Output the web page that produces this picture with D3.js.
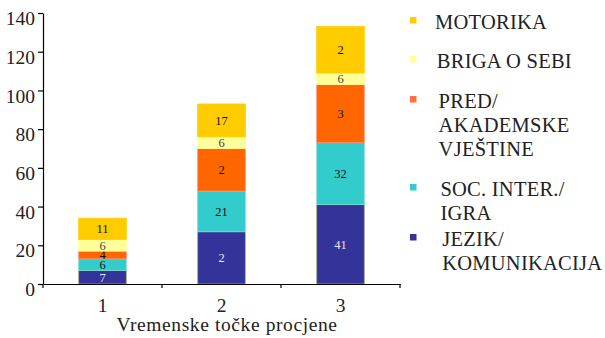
<!DOCTYPE html>
<html>
<head>
<meta charset="utf-8">
<script src="https://cdn.jsdelivr.net/npm/d3@7"></script>
<style>
  html, body { margin: 0; padding: 0; background: #fff; }
  svg text { font-family: "Liberation Serif", "DejaVu Serif", serif; }
</style>
</head>
<body>
<svg id="chart" width="605" height="338"></svg>
<script>
// Assessment time points
const categories = ["1", "2", "3"];

// Domains, stacked bottom to top
const seriesNames = ["JEZIK/ KOMUNIKACIJA", "SOC. INTER./ IGRA", "PRED/ AKADEMSKE VJEŠTINE", "BRIGA O SEBI", "MOTORIKA"];
const jezik    = [7, 27, 41];
const socInter = [6, 21, 32];
const pred     = [4, 22, 30];
const briga    = [6, 6, 6];
const motorika = [11, 17, 24];

// Text printed inside each segment
const jezikLabels    = ["7", "2", "41"];
const socLabels      = ["6", "21", "32"];
const predLabels     = ["4", "2", "3"];
const brigaLabels    = ["6", "6", "6"];
const motorikaLabels = ["11", "17", "2"];

const yTicks = [0, 20, 40, 60, 80, 100, 120, 140];
const xTitle = "Vremenske točke procjene";

// Legend entries, top to bottom, each split into lines
const legendLines = [
  ["MOTORIKA"],
  ["BRIGA O SEBI"],
  ["PRED/", "AKADEMSKE", "VJEŠTINE"],
  ["SOC. INTER./", "IGRA"],
  ["JEZIK/", "KOMUNIKACIJA"]
];

const seriesValues = [jezik, socInter, pred, briga, motorika];
const seriesLabels = [jezikLabels, socLabels, predLabels, brigaLabels, motorikaLabels];
const fills   = ["#333399", "#33CCCC", "#FF6600", "#FFFF99", "#FFCC00"];
const strokes = ["#9db07a", "#7fd8d0", "#ff8c7a", "#ffff99", "#ffcc00"];
const textColors = ["#e4e4f4", "#111", "#111", "#444", "#111"];
const legendColors = ["#FFCC00", "#FFFF99", "#FF6F3A", "#33CCCC", "#333399"];

const FONT = "'Liberation Serif', 'DejaVu Serif', serif";
const svg = d3.select("#chart");

const x = d3.scaleBand().domain(categories).range([43, 400]).padding(0);
const y = d3.scaleLinear().domain([0, 140]).range([284, 13]);
const barW = x.bandwidth() * 0.4;

// Stack rows per category
const rows = categories.map((c, i) => {
  const r = { cat: c, idx: i };
  seriesNames.forEach((s, k) => { r[s] = seriesValues[k][i]; });
  return r;
});
const stacked = d3.stack().keys(seriesNames)(rows);

const layers = svg.append("g").selectAll("g")
  .data(stacked)
  .join("g");

layers.each(function (layer, k) {
  d3.select(this).selectAll("rect")
    .data(layer)
    .join("rect")
    .attr("x", d => x(d.data.cat) + (x.bandwidth() - barW) / 2)
    .attr("y", d => y(d[1]))
    .attr("width", barW)
    .attr("height", d => y(d[0]) - y(d[1]))
    .attr("fill", fills[k])
    .attr("stroke", strokes[k])
    .attr("stroke-width", 0.8);
});

// Segment labels drawn above all rectangles
layers.each(function (layer, k) {
  d3.select(this).selectAll("text")
    .data(layer)
    .join("text")
    .attr("x", d => x(d.data.cat) + x.bandwidth() / 2)
    .attr("y", d => (y(d[0]) + y(d[1])) / 2)
    .attr("dy", "0.36em")
    .attr("text-anchor", "middle")
    .attr("font-family", FONT)
    .attr("font-size", 12.5)
    .attr("fill", textColors[k])
    .text(d => seriesLabels[k][d.data.idx]);
});

// Y axis
const yAxis = svg.append("g")
  .attr("transform", "translate(43,0)")
  .call(d3.axisLeft(y).tickValues(yTicks).tickSize(5).tickPadding(3).tickSizeOuter(0));
yAxis.attr("font-family", FONT);
yAxis.select(".domain").attr("stroke", "#000").attr("stroke-width", 1.2);
yAxis.selectAll(".tick line").attr("stroke", "#000").attr("stroke-width", 1.2);
yAxis.selectAll(".tick text")
  .attr("font-size", 19.5)
  .attr("font-family", FONT)
  .attr("fill", "#222")
  .attr("dy", "0.6em");

// X axis with ticks at band boundaries
const xAxis = svg.append("g")
  .attr("transform", "translate(0,284)")
  .call(d3.axisBottom(x).tickSize(0).tickPadding(14).tickSizeOuter(0));
xAxis.attr("font-family", FONT);
xAxis.select(".domain").attr("stroke", "#000").attr("stroke-width", 1.2);
xAxis.selectAll(".tick text")
  .attr("font-size", 19.5)
  .attr("font-family", FONT)
  .attr("fill", "#222");
const bounds = categories.map(c => x(c)).concat([x(categories[categories.length - 1]) + x.step()]);
xAxis.selectAll(".bound")
  .data(bounds)
  .join("line")
  .attr("class", "bound")
  .attr("x1", d => d).attr("x2", d => d)
  .attr("y1", 0).attr("y2", 4)
  .attr("stroke", "#000").attr("stroke-width", 1.2);

svg.append("text")
  .attr("x", 227)
  .attr("y", 331)
  .attr("text-anchor", "middle")
  .attr("font-family", FONT)
  .attr("font-size", 19.5)
  .attr("letter-spacing", 0.6)
  .attr("fill", "#222")
  .text(xTitle);

// Legend
const legendBaselines = [29, 68, 108, 196, 246];
const lineGap = 24;
const legend = svg.append("g");
legendLines.forEach((lines, i) => {
  const base = legendBaselines[i];
  legend.append("rect")
    .attr("x", 410)
    .attr("y", base - 12)
    .attr("width", 6.5)
    .attr("height", 6.5)
    .attr("fill", legendColors[i]);
  const t = legend.append("text")
    .attr("font-family", FONT)
    .attr("font-size", 20.5)
    .attr("fill", "#222")
    .attr("letter-spacing", 0.25);
  lines.forEach((ln, j) => {
    t.append("tspan")
      .attr("x", 435 + i * 1.8)
      .attr("y", base + j * lineGap)
      .text(ln);
  });
});
</script>
</body>
</html>
